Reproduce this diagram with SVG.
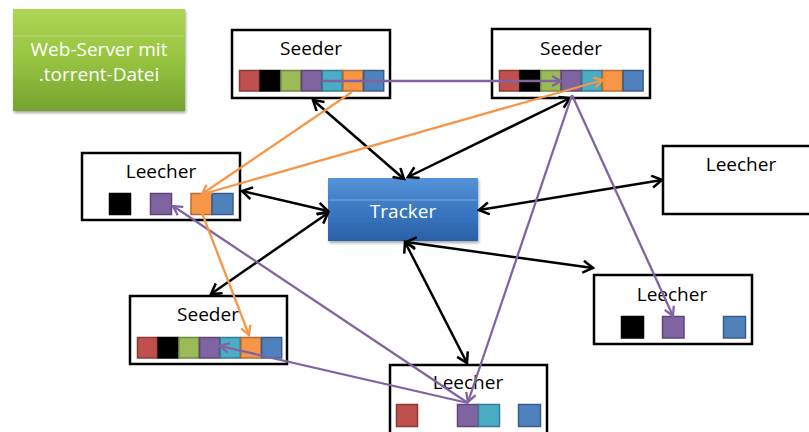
<svg xmlns="http://www.w3.org/2000/svg" width="809" height="432" viewBox="0 0 809 432">
<defs>
<linearGradient id="gGreen" x1="0" y1="0" x2="0" y2="1">
<stop offset="0" stop-color="#aed556"/>
<stop offset="0.5" stop-color="#96c43f"/>
<stop offset="1" stop-color="#76a22f"/>
</linearGradient>
<linearGradient id="gBlue" x1="0" y1="0" x2="0" y2="1">
<stop offset="0" stop-color="#5592d8"/>
<stop offset="0.5" stop-color="#3b78c2"/>
<stop offset="1" stop-color="#2a60a8"/>
</linearGradient>
<filter id="sh" x="-10%" y="-10%" width="130%" height="130%">
<feGaussianBlur in="SourceAlpha" stdDeviation="1.5"/>
<feOffset dx="1" dy="2"/>
<feComponentTransfer><feFuncA type="linear" slope="0.35"/></feComponentTransfer>
<feMerge><feMergeNode/><feMergeNode in="SourceGraphic"/></feMerge>
</filter>
<marker id="ak" markerUnits="userSpaceOnUse" markerWidth="16" markerHeight="16" refX="12" refY="7" orient="auto-start-reverse" viewBox="0 0 16 16">
<path d="M2,1 L12,7 L2,13" fill="none" stroke="#000" stroke-width="2.5"/>
</marker>
<marker id="ap" markerUnits="userSpaceOnUse" markerWidth="14" markerHeight="14" refX="11" refY="6" orient="auto" viewBox="0 0 14 14">
<path d="M2,1 L11,6 L2,11" fill="none" stroke="#8064a2" stroke-width="2.3"/>
</marker>
<marker id="ao" markerUnits="userSpaceOnUse" markerWidth="14" markerHeight="14" refX="11" refY="6" orient="auto" viewBox="0 0 14 14">
<path d="M2,1 L11,6 L2,11" fill="none" stroke="#f79646" stroke-width="2.3"/>
</marker>
</defs>
<style>
.box{fill:#fff;stroke:#000;stroke-width:2.5}
.lbl{font-family:"Open Sans","Noto Sans",sans-serif;font-size:19px;fill:#000;text-anchor:middle}
.wl{font-family:"Open Sans","Noto Sans",sans-serif;font-size:19px;fill:#fff;text-anchor:middle}
.r{fill:#c0504d;stroke:#8c3836;stroke-width:1.5}
.k{fill:#000;stroke:#000;stroke-width:1.5}
.g{fill:#9bbb59;stroke:#71893f;stroke-width:1.5}
.p{fill:#8064a2;stroke:#5c4776;stroke-width:1.5}
.c{fill:#4bacc6;stroke:#357d91;stroke-width:1.5}
.o{fill:#f79646;stroke:#b66d31;stroke-width:1.5}
.b{fill:#4f81bd;stroke:#385d8a;stroke-width:1.5}
.bl{stroke:#000;stroke-width:2.5;fill:none;marker-start:url(#ak);marker-end:url(#ak)}
.pl{stroke:#8064a2;stroke-width:2.3;fill:none}
.ol{stroke:#f79646;stroke-width:2.3;fill:none}
</style>

<g id="webserver">
<rect x="13" y="9" width="172" height="102" fill="url(#gGreen)" filter="url(#sh)"/>
<line x1="14" y1="36" x2="184" y2="36" stroke="#c6e28f" stroke-width="0.8"/>
<text class="wl" x="99" y="56">Web-Server mit</text>
<text class="wl" x="99" y="81">.torrent-Datei</text>
</g>

<g id="seeder1">
<rect class="box" x="232" y="30" width="158" height="68"/>
<text class="lbl" x="311" y="55">Seeder</text>
<rect class="r" x="239.5" y="70.5" width="20" height="20.5"/>
<rect class="k" x="260.2" y="70.5" width="20" height="20.5"/>
<rect class="g" x="280.9" y="70.5" width="20" height="20.5"/>
<rect class="p" x="301.6" y="70.5" width="20" height="20.5"/>
<rect class="c" x="322.3" y="70.5" width="20" height="20.5"/>
<rect class="o" x="343" y="70.5" width="20" height="20.5"/>
<rect class="b" x="363.7" y="70.5" width="20" height="20.5"/>
</g>

<g id="seeder2">
<rect class="box" x="492" y="29" width="158" height="69"/>
<text class="lbl" x="571" y="55">Seeder</text>
<rect class="r" x="499.5" y="70.5" width="20" height="20.5"/>
<rect class="k" x="520.1" y="70.5" width="20" height="20.5"/>
<rect class="g" x="540.7" y="70.5" width="20" height="20.5"/>
<rect class="p" x="561.3" y="70.5" width="20" height="20.5"/>
<rect class="c" x="581.9" y="70.5" width="20" height="20.5"/>
<rect class="o" x="602.5" y="70.5" width="20" height="20.5"/>
<rect class="b" x="623.1" y="70.5" width="20" height="20.5"/>
</g>

<g id="leecher-left">
<rect class="box" x="82" y="153" width="158" height="67"/>
<text class="lbl" x="161" y="178">Leecher</text>
<rect class="k" x="109.5" y="193.5" width="21" height="21"/>
<rect class="p" x="150.5" y="193.5" width="21" height="21"/>
<rect class="o" x="191" y="193.5" width="21" height="21"/>
<rect class="b" x="212" y="193.5" width="21" height="21"/>
</g>

<g id="leecher-right">
<rect class="box" x="663" y="146" width="152" height="68"/>
<text class="lbl" x="741" y="171">Leecher</text>
</g>

<g id="tracker">
<rect x="328" y="178" width="150" height="63" fill="url(#gBlue)" filter="url(#sh)"/>
<line x1="329" y1="200" x2="477" y2="200" stroke="#8db3e6" stroke-width="0.8"/>
<text class="wl" x="403" y="218">Tracker</text>
</g>

<g id="seeder-bottom">
<rect class="box" x="130" y="296" width="157" height="68"/>
<text class="lbl" x="208" y="321">Seeder</text>
<rect class="r" x="137.5" y="337.5" width="20" height="20.5"/>
<rect class="k" x="158.2" y="337.5" width="20" height="20.5"/>
<rect class="g" x="178.9" y="337.5" width="20" height="20.5"/>
<rect class="p" x="199.6" y="337.5" width="20" height="20.5"/>
<rect class="c" x="220.3" y="337.5" width="20" height="20.5"/>
<rect class="o" x="241" y="337.5" width="20" height="20.5"/>
<rect class="b" x="261.7" y="337.5" width="20" height="20.5"/>
</g>

<g id="leecher-bottom">
<rect class="box" x="390" y="365" width="157" height="75"/>
<text class="lbl" x="468" y="389">Leecher</text>
<rect class="r" x="396.5" y="404.5" width="21" height="22"/>
<rect class="p" x="457.5" y="404.5" width="21" height="22"/>
<rect class="c" x="478.5" y="404.5" width="21" height="22"/>
<rect class="b" x="518.5" y="404.5" width="22" height="22"/>
</g>

<g id="leecher-right-bottom">
<rect class="box" x="594" y="275" width="158" height="69"/>
<text class="lbl" x="672" y="301">Leecher</text>
<rect class="k" x="621.5" y="316.5" width="22" height="21.5"/>
<rect class="p" x="662.5" y="316.5" width="21.5" height="21.5"/>
<rect class="b" x="723.5" y="316.5" width="22" height="21.5"/>
</g>

<g id="connectors">
<line class="bl" x1="313" y1="100" x2="404" y2="179"/>
<line class="bl" x1="570" y1="98" x2="408" y2="177"/>
<line class="bl" x1="242" y1="191" x2="328" y2="211"/>
<line class="bl" x1="328" y1="213" x2="211" y2="294"/>
<line class="bl" x1="479" y1="210" x2="662" y2="180"/>
<line class="bl" x1="405" y1="242" x2="467" y2="363"/>
<line class="bl" x1="406" y1="242" x2="593" y2="268"/>

<line class="pl" x1="322" y1="81" x2="561" y2="81" marker-end="url(#ap)"/>
<line class="pl" x1="572" y1="95" x2="468" y2="402" marker-end="url(#ap)"/>
<line class="pl" x1="572" y1="95" x2="673" y2="316" marker-end="url(#ap)"/>
<line class="pl" x1="468" y1="403" x2="220" y2="346" marker-end="url(#ap)"/>
<line class="pl" x1="468" y1="403" x2="173" y2="206" marker-end="url(#ap)"/>

<line class="ol" x1="352" y1="92" x2="202" y2="194" marker-end="url(#ao)"/>
<line class="ol" x1="203" y1="194" x2="603" y2="80" marker-end="url(#ao)"/>
<line class="ol" x1="202" y1="213" x2="249" y2="335" marker-end="url(#ao)"/>
</g>
</svg>
